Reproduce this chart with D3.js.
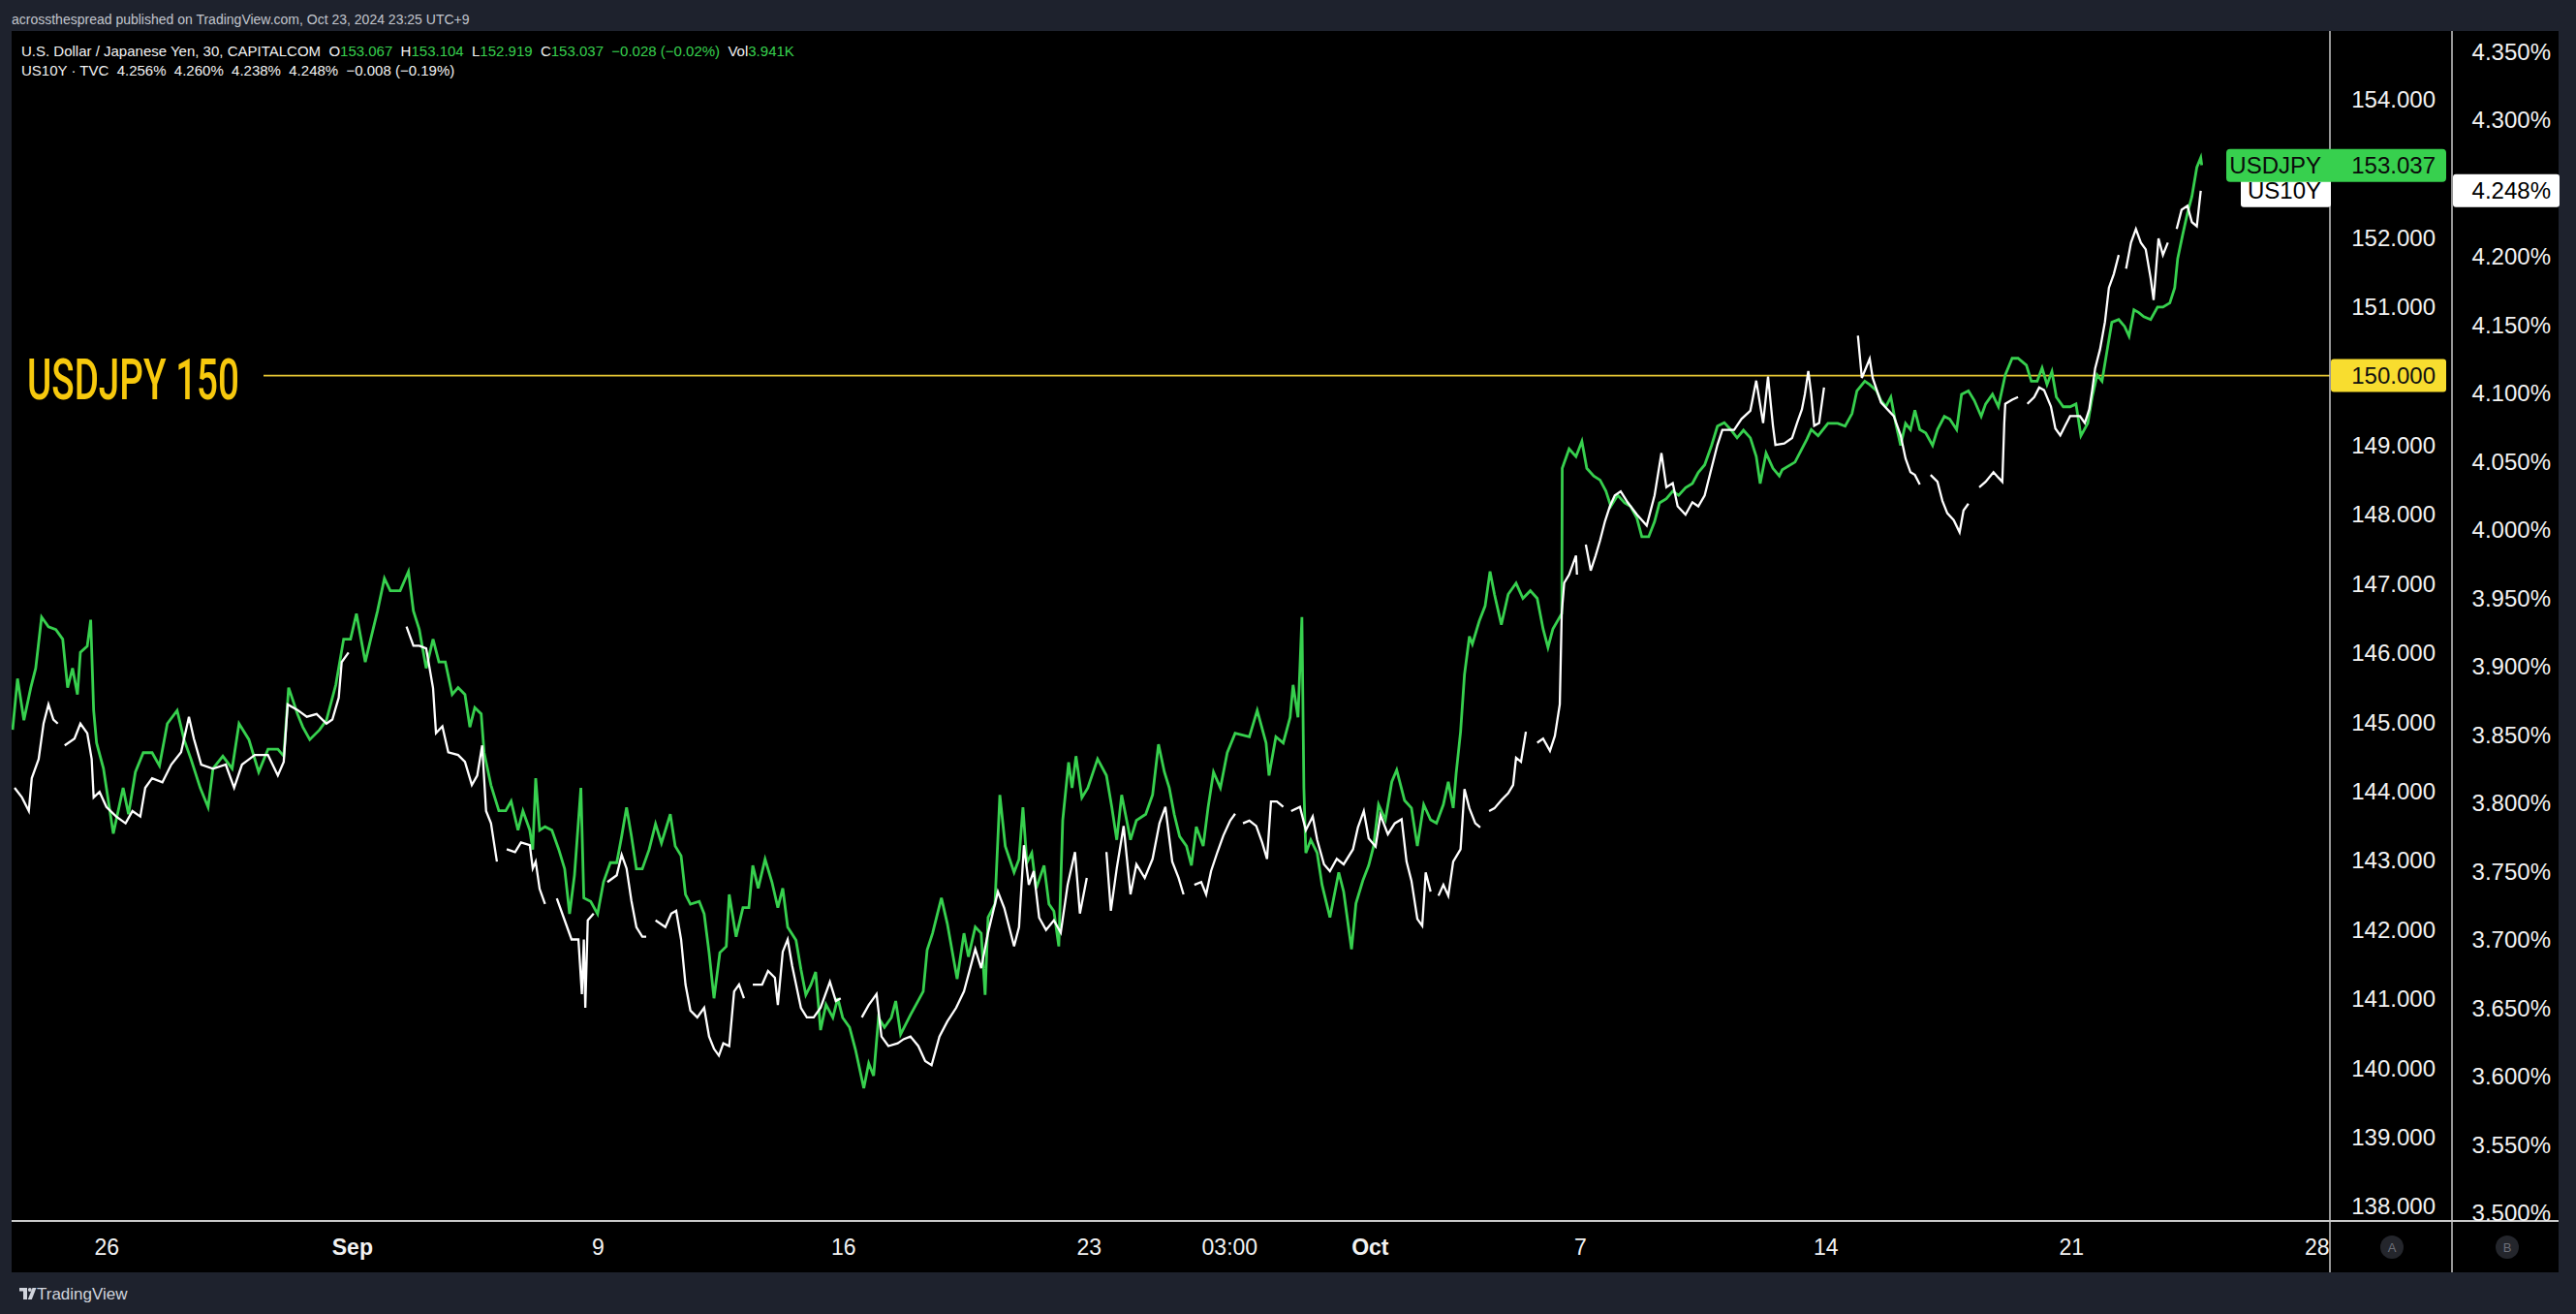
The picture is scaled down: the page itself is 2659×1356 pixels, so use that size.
<!DOCTYPE html>
<html><head><meta charset="utf-8">
<script src="https://cdn.jsdelivr.net/npm/d3@7"></script>
<style>html,body{margin:0;padding:0;background:#1e222d;overflow:hidden}</style>
</head><body><svg id="c" width="2659" height="1356"></svg>
<script>
// time unit: trading days since Mon Aug 26 (weekends collapsed, as on TradingView)
const usdjpy = [[-1.91,144.88],[-1.81,145.62],[-1.68,145.02],[-1.54,145.49],[-1.44,145.77],[-1.32,146.51],[-1.18,146.37],[-1.03,146.33],[-0.89,146.19],[-0.79,145.49],[-0.69,145.77],[-0.59,145.39],[-0.53,146.00],[-0.39,146.09],[-0.32,146.47],[-0.26,145.16],[-0.20,144.69],[-0.06,144.32],[0.14,143.38],[0.34,144.04],[0.45,143.66],[0.59,144.27],[0.75,144.55],[0.93,144.55],[1.08,144.36],[1.24,144.97],[1.44,145.16],[1.58,144.74],[1.72,144.46],[1.91,144.04],[2.07,143.76],[2.17,144.32],[2.37,144.50],[2.56,144.32],[2.70,144.97],[2.90,144.74],[3.10,144.27],[3.29,144.60],[3.49,144.60],[3.61,144.50],[3.71,145.49],[3.89,145.11],[4.00,144.92],[4.14,144.74],[4.34,144.88],[4.48,145.02],[4.67,145.53],[4.83,146.19],[4.97,146.19],[5.09,146.56],[5.27,145.86],[5.38,146.19],[5.52,146.60],[5.66,147.07],[5.78,146.89],[5.98,146.89],[6.15,147.17],[6.25,146.60],[6.37,146.33],[6.51,145.77],[6.65,146.19],[6.77,145.86],[6.90,145.86],
[7.04,145.39],[7.16,145.49],[7.30,145.39],[7.40,144.92],[7.50,145.20],[7.63,145.11],[7.69,144.55],[7.83,144.08],[7.99,143.71],[8.13,143.71],[8.24,143.85],[8.38,143.43],[8.48,143.71],[8.62,143.43],[8.68,143.15],[8.74,144.18],[8.82,143.43],[8.93,143.48],[9.07,143.43],[9.21,143.15],[9.33,142.87],[9.43,142.22],[9.53,142.78],[9.66,144.04],[9.72,142.45],[9.86,142.40],[10.00,142.22],[10.12,142.68],[10.26,142.96],[10.39,142.96],[10.49,143.34],[10.59,143.76],[10.69,143.34],[10.79,142.87],[10.91,142.87],[11.05,143.15],[11.18,143.52],[11.30,143.24],[11.48,143.66],[11.58,143.20],[11.70,143.06],[11.79,142.50],[11.89,142.36],[12.07,142.40],[12.17,142.22],[12.27,141.66],[12.37,141.00],[12.49,141.66],[12.62,141.75],[12.68,142.50],[12.82,141.89],[12.96,142.31],[13.08,142.31],[13.16,142.92],[13.27,142.59],[13.41,143.01],[13.55,142.68],[13.67,142.31],[13.77,142.59],[13.87,142.03],[14.04,141.84],[14.14,141.42],[14.24,141.05],[14.34,141.19],[14.44,141.38],[14.54,140.54],[14.65,140.91],[14.79,140.72],[14.89,141.00],[14.99,140.72],[15.13,140.58],[15.25,140.26],[15.42,139.70],[15.52,140.06],[15.62,139.88],[15.72,140.72],[15.84,140.58],[15.98,140.72],[16.07,140.96],[16.17,140.48],[16.37,140.76],
[16.63,141.10],[16.71,141.70],[16.82,141.94],[17.00,142.45],[17.12,142.08],[17.32,141.28],[17.46,141.94],[17.55,141.60],[17.69,142.03],[17.81,141.94],[17.89,141.05],[17.95,142.17],[18.09,142.36],[18.19,143.94],[18.30,143.20],[18.48,142.82],[18.58,143.01],[18.66,143.76],[18.74,142.96],[18.84,143.10],[18.93,142.59],[19.09,142.92],[19.19,142.36],[19.29,142.26],[19.39,141.75],[19.47,143.57],[19.59,144.41],[19.66,144.04],[19.74,144.50],[19.86,143.90],[19.98,144.04],[20.18,144.46],[20.36,144.22],[20.47,143.76],[20.57,143.29],[20.67,143.94],[20.85,143.29],[20.97,143.57],[21.16,143.66],[21.30,143.94],[21.42,144.67],[21.54,144.27],[21.64,144.04],[21.74,143.66],[21.85,143.34],[21.99,143.20],[22.09,142.92],[22.19,143.48],[22.33,143.20],[22.43,143.76],[22.54,144.27],[22.68,144.04],[22.82,144.55],[22.98,144.83],[23.27,144.78],[23.43,145.16],[23.61,144.69],[23.67,144.22],[23.81,144.78],[23.96,144.69],[24.10,145.06],[24.16,145.53],[24.26,145.06],[24.34,146.51],[24.38,144.04],[24.42,143.10],[24.52,143.29],[24.65,143.10],[24.75,142.64],[24.91,142.17],[25.09,142.82],[25.19,142.54],
[25.35,141.71],[25.44,142.37],[25.58,142.70],[25.70,142.92],[25.80,143.20],[25.90,143.80],[26.04,143.58],[26.17,144.13],[26.27,144.30],[26.43,143.86],[26.57,143.75],[26.69,143.20],[26.82,143.80],[26.96,143.58],[27.08,143.53],[27.22,143.80],[27.32,144.13],[27.42,143.75],[27.48,144.25],[27.57,144.85],[27.65,145.68],[27.75,146.23],[27.81,146.12],[27.95,146.45],[28.07,146.67],[28.17,147.17],[28.26,146.84],[28.40,146.40],[28.54,146.84],[28.70,147.00],[28.84,146.78],[28.99,146.89],[29.13,146.78],[29.25,146.34],[29.35,146.07],[29.45,146.34],[29.63,146.56],[29.64,148.66],[29.78,148.94],[29.92,148.83],[30.04,149.05],[30.14,148.66],[30.28,148.55],[30.41,148.49],[30.53,148.33],[30.63,148.11],[30.77,148.27],[30.91,148.16],[31.03,148.11],[31.16,147.94],[31.26,147.67],[31.40,147.67],[31.52,147.89],[31.62,148.16],[31.76,148.22],[31.89,148.33],[32.01,148.27],[32.15,148.38],[32.29,148.44],[32.41,148.60],[32.54,148.71],[32.68,148.99],[32.80,149.27],[32.94,149.32],[33.08,149.21],[33.20,149.10],[33.33,149.21],[33.47,149.10],[33.59,148.83],[33.67,148.44],[33.79,148.88],[33.93,148.66],[34.06,148.55],
[34.12,148.64],[34.38,148.75],[34.62,149.08],[34.71,149.22],[34.85,149.13],[35.05,149.31],[35.25,149.31],[35.40,149.27],[35.54,149.45],[35.64,149.78],[35.80,149.92],[35.90,149.87],[36.04,149.78],[36.13,149.64],[36.23,149.55],[36.33,149.69],[36.43,149.31],[36.53,148.99],[36.63,149.31],[36.73,149.22],[36.82,149.50],[36.92,149.22],[37.04,149.17],[37.18,148.99],[37.28,149.22],[37.42,149.41],[37.53,149.37],[37.67,149.22],[37.77,149.73],[37.91,149.78],[38.03,149.64],[38.17,149.41],[38.26,149.59],[38.40,149.73],[38.52,149.55],[38.66,150.01],[38.80,150.25],[38.92,150.25],[39.09,150.15],[39.19,149.92],[39.31,149.92],[39.41,150.11],[39.51,149.87],[39.61,150.06],[39.70,149.69],[39.84,149.55],[39.98,149.55],[40.10,149.59],[40.20,149.13],[40.34,149.31],[40.43,149.69],[40.53,150.01],[40.63,149.92],[40.73,150.35],[40.83,150.77],[40.97,150.81],[41.09,150.71],[41.18,150.57],[41.28,150.95],[41.38,150.91],[41.48,150.85],[41.62,150.81],[41.76,150.99],[41.87,150.99],[42.01,151.05],[42.11,151.27],[42.17,151.69],[42.27,152.03],[42.37,152.35],[42.46,152.59],[42.56,153.01],[42.64,153.15],[42.66,153.04]];

// null = no quotes (session gaps)
const us10y = [[-1.87,3.811],[-1.72,3.804],[-1.58,3.794],[-1.52,3.818],[-1.38,3.832],[-1.28,3.858],[-1.18,3.872],[-1.08,3.861],[-0.99,3.858],null,[-0.85,3.842],[-0.65,3.847],[-0.53,3.858],[-0.39,3.851],[-0.30,3.832],[-0.26,3.804],[-0.14,3.808],[0.00,3.797],[0.20,3.790],[0.39,3.785],[0.53,3.794],[0.69,3.790],[0.79,3.811],[0.93,3.818],[1.14,3.815],[1.32,3.828],[1.52,3.837],[1.68,3.863],[1.78,3.847],[1.93,3.828],[2.17,3.825],[2.43,3.828],[2.60,3.811],[2.76,3.828],[3.02,3.835],[3.29,3.835],[3.49,3.820],[3.61,3.830],[3.69,3.872],[3.89,3.868],[4.08,3.863],[4.28,3.865],[4.48,3.858],[4.60,3.861],[4.73,3.877],[4.79,3.903],[4.93,3.910],null,[6.11,3.929],[6.25,3.915],[6.37,3.915],[6.51,3.913],[6.65,3.884],[6.71,3.851],[6.84,3.856],[6.96,3.837],[7.16,3.835],
[7.30,3.830],[7.44,3.813],[7.55,3.820],[7.65,3.842],[7.73,3.794],[7.83,3.785],[7.95,3.757],null,[8.15,3.766],[8.32,3.764],[8.44,3.771],[8.62,3.769],[8.68,3.752],[8.74,3.757],[8.82,3.737],[8.93,3.726],null,[9.17,3.730],[9.33,3.714],[9.47,3.700],[9.61,3.700],[9.68,3.660],[9.72,3.700],[9.75,3.650],[9.80,3.714],[9.92,3.719],null,[10.20,3.742],[10.39,3.747],[10.49,3.762],[10.59,3.752],[10.69,3.728],[10.79,3.709],[10.91,3.702],[10.99,3.702],null,[11.18,3.714],[11.38,3.709],[11.50,3.719],[11.60,3.721],[11.70,3.700],[11.79,3.667],[11.89,3.648],[12.03,3.643],[12.17,3.650],[12.27,3.629],[12.37,3.620],[12.47,3.615],[12.56,3.624],[12.68,3.622],[12.78,3.662],[12.88,3.667],[12.98,3.657],null,[13.16,3.667],[13.35,3.667],[13.47,3.677],[13.61,3.672],[13.67,3.652],[13.77,3.691],[13.87,3.700],[13.96,3.681],[14.14,3.650],[14.26,3.643],[14.40,3.643],[14.54,3.650],[14.73,3.669],[14.85,3.655],[14.95,3.657],null,[15.38,3.643],[15.52,3.652],[15.68,3.660],[15.78,3.629],[15.92,3.622],[16.11,3.624],[16.23,3.627],[16.37,3.629],[16.53,3.622],[16.67,3.611],[16.80,3.608],[16.96,3.629],[17.12,3.640],[17.30,3.650],[17.46,3.662],
[17.69,3.693],[17.81,3.679],[17.95,3.705],[18.15,3.735],[18.28,3.723],[18.48,3.695],[18.58,3.709],[18.68,3.769],[18.78,3.740],[18.88,3.750],[18.99,3.716],[19.13,3.707],[19.29,3.714],[19.43,3.705],[19.57,3.740],[19.72,3.764],[19.82,3.719],[19.96,3.745],null,[20.36,3.764],[20.45,3.721],[20.57,3.752],[20.71,3.783],[20.85,3.733],[20.97,3.755],[21.14,3.745],[21.30,3.759],[21.44,3.785],[21.56,3.797],[21.70,3.757],[21.83,3.745],[21.93,3.733],null,[22.15,3.740],[22.29,3.742],[22.39,3.733],[22.49,3.750],[22.62,3.764],[22.74,3.776],[22.88,3.787],[22.98,3.792],null,[23.14,3.785],[23.27,3.787],[23.41,3.783],[23.53,3.771],[23.63,3.759],[23.71,3.801],[23.83,3.801],[23.96,3.797],null,[24.12,3.794],[24.30,3.797],[24.42,3.780],[24.56,3.790],[24.65,3.773],[24.79,3.755],[24.91,3.750],[25.05,3.759],[25.19,3.755],
[25.38,3.766],[25.48,3.782],[25.60,3.794],[25.70,3.774],[25.84,3.768],[25.94,3.791],[26.09,3.777],[26.23,3.785],[26.37,3.788],[26.47,3.757],[26.57,3.743],[26.69,3.715],[26.79,3.710],[26.86,3.749],[26.96,3.735],null,[27.12,3.732],[27.22,3.740],[27.32,3.732],[27.42,3.757],[27.57,3.766],[27.65,3.810],[27.75,3.796],[27.87,3.785],[27.97,3.782],null,[28.15,3.794],[28.26,3.796],[28.40,3.802],[28.54,3.807],[28.64,3.813],[28.70,3.833],[28.80,3.830],[28.90,3.852],null,[29.13,3.844],[29.25,3.847],[29.39,3.838],[29.49,3.849],[29.59,3.872],[29.63,3.939],[29.68,3.961],[29.78,3.967],[29.92,3.981],[29.94,3.967],null,[30.12,3.989],[30.22,3.970],[30.32,3.981],[30.41,3.992],[30.51,4.006],[30.61,4.017],[30.71,4.025],[30.83,4.028],[30.97,4.020],[31.16,4.011],[31.36,4.003],[31.52,4.025],[31.66,4.056],[31.76,4.031],[31.89,4.034],[31.99,4.017],[32.15,4.011],[32.29,4.020],[32.41,4.017],[32.54,4.025],[32.68,4.045],[32.80,4.062],[32.90,4.073],[33.14,4.073],[33.29,4.081],[33.47,4.087],[33.59,4.109],[33.73,4.078],[33.83,4.112],[33.93,4.076],[33.98,4.062],[34.16,4.063],[34.32,4.067],
[34.42,4.078],[34.52,4.088],[34.58,4.099],[34.65,4.116],[34.71,4.099],[34.77,4.076],[34.87,4.078],[34.97,4.104],null,[35.66,4.142],[35.74,4.111],[35.90,4.125],[35.96,4.111],[36.13,4.093],[36.39,4.083],[36.53,4.069],[36.63,4.052],[36.73,4.042],[36.82,4.040],[36.92,4.033],null,[37.14,4.040],[37.28,4.035],[37.38,4.021],[37.48,4.012],[37.61,4.007],[37.73,3.998],[37.81,4.014],[37.91,4.019],null,[38.13,4.031],[38.26,4.035],[38.42,4.042],[38.52,4.038],[38.60,4.035],[38.64,4.078],[38.66,4.092],[38.80,4.095],[38.92,4.097],null,[39.11,4.092],[39.25,4.097],[39.35,4.104],[39.45,4.102],[39.59,4.090],[39.68,4.074],[39.78,4.069],[39.88,4.076],[39.98,4.083],[40.18,4.083],[40.28,4.078],[40.37,4.088],[40.43,4.102],[40.49,4.118],[40.59,4.132],[40.69,4.152],[40.77,4.177],[40.87,4.187],[40.97,4.201],null,[41.12,4.191],[41.22,4.210],[41.32,4.220],[41.42,4.210],[41.52,4.205],[41.62,4.184],[41.68,4.168],[41.78,4.213],[41.87,4.201],[41.97,4.210],null,[42.15,4.220],[42.25,4.234],[42.37,4.237],[42.46,4.225],[42.56,4.222],[42.64,4.248]];

const priceTicks = [138,139,140,141,142,143,144,145,146,147,148,149,150,151,152,153,154];
const yieldTicks = [3.50,3.55,3.60,3.65,3.70,3.75,3.80,3.85,3.90,3.95,4.00,4.05,4.10,4.15,4.20,4.25,4.30,4.35];
const timeTickPos = [0,5,10,15,20,22.86,25.72,30,35,40,45];
const timeTickLabels = ["26","Sep","9","16","23","03:00","Oct","7","14","21","28"];
const boldTimeLabels = ["Sep","Oct"];
const lastUsdjpy = 153.037, lastUs10y = 4.248, levelValue = 150.000;
const visibleTime = [-1.93, 45.27];
const priceView = [138, 154];
const yieldView = [3.50, 4.35];

const GREEN = "#37d04e", YELLOW = "#f8dd2f", FONT = "'Liberation Sans', Arial, sans-serif";
const svg = d3.select("#c");
const L = 12, T = 32, R = 2641, B = 1313, AX1 = 2405, AX2 = 2531, TAX = 1260;

svg.append("rect").attr("width",2659).attr("height",1356).attr("fill","#1e222d");
svg.append("rect").attr("x",L).attr("y",T).attr("width",R-L).attr("height",B-T).attr("fill","#000");

const x = d3.scaleLinear().domain(visibleTime).range([L, AX1]);
const yP = d3.scaleLinear().domain(priceView).range([1244.4, 102]);
const yY = d3.scaleLinear().domain(yieldView).range([1251.5, 53]);

svg.append("clipPath").attr("id","plot").append("rect").attr("x",L).attr("y",T).attr("width",AX1-L).attr("height",TAX-T);
const plot = svg.append("g").attr("clip-path","url(#plot)");

// level line
plot.append("line").attr("x1",272).attr("x2",AX1).attr("y1",yP(levelValue)).attr("y2",yP(levelValue))
  .attr("stroke","#e5c534").attr("stroke-width",1.6);

const lineP = d3.line().defined(d=>d!==null).x(d=>x(d[0])).y(d=>yP(d[1]));
const lineY = d3.line().defined(d=>d!==null).x(d=>x(d[0])).y(d=>yY(d[1]));
plot.append("path").datum(usdjpy).attr("d",lineP).attr("fill","none").attr("stroke",GREEN).attr("stroke-width",2.8).attr("stroke-linejoin","miter");
plot.append("path").datum(us10y).attr("d",lineY).attr("fill","none").attr("stroke","#ffffff").attr("stroke-width",2.3).attr("stroke-linejoin","miter");

// axes lines
svg.append("line").attr("x1",AX1).attr("x2",AX1).attr("y1",T).attr("y2",B).attr("stroke","#c9c9c9").attr("stroke-width",1.5);
svg.append("line").attr("x1",AX2).attr("x2",AX2).attr("y1",T).attr("y2",B).attr("stroke","#c9c9c9").attr("stroke-width",1.5);
svg.append("line").attr("x1",L).attr("x2",R).attr("y1",TAX).attr("y2",TAX).attr("stroke","#c9c9c9").attr("stroke-width",2);

// price axis (left scale column)
const gP = svg.append("g").attr("transform",`translate(2514,0)`);
gP.call(d3.axisRight(yP).tickValues(priceTicks).tickSize(0).tickFormat(d3.format(".3f")));
gP.select(".domain").remove();
gP.selectAll("text").attr("x",0).attr("text-anchor","end").attr("dy","0.35em")
  .attr("fill","#f2f2f2").style("font-family",FONT).style("font-size","24px");
// yield axis
const gY = svg.append("g").attr("transform",`translate(2633,0)`);
gY.call(d3.axisRight(yY).tickValues(yieldTicks).tickSize(0).tickFormat(d=>d3.format(".3f")(d)+"%"));
gY.select(".domain").remove();
gY.selectAll("text").attr("x",0).attr("text-anchor","end").attr("dy","0.35em")
  .attr("fill","#f2f2f2").style("font-family",FONT).style("font-size","24px");

// time axis
const gT = svg.append("g").attr("transform",`translate(0,1287)`);
gT.call(d3.axisBottom(x).tickValues(timeTickPos).tickSize(0).tickFormat((d,i)=>timeTickLabels[i]));
gT.select(".domain").remove();
gT.selectAll("text").attr("y",0).attr("dy","0.35em").attr("fill","#f2f2f2")
  .style("font-family",FONT).style("font-size","23px")
  .style("font-weight",(d,i)=>boldTimeLabels.includes(timeTickLabels[i])?"bold":"normal");

// last-value labels
svg.append("rect").attr("x",2313).attr("y",yY(lastUs10y)-17).attr("width",93).attr("height",34).attr("rx",3).attr("fill","#fff");
svg.append("text").attr("x",2396).attr("y",yY(lastUs10y)).attr("dy","0.35em").attr("text-anchor","end").attr("fill","#000").style("font-family",FONT).style("font-size","24px").text("US10Y");
svg.append("rect").attr("x",AX2+1).attr("y",yY(lastUs10y)-17).attr("width",110).attr("height",34).attr("rx",3).attr("fill","#fff");
svg.append("text").attr("x",2633).attr("y",yY(lastUs10y)).attr("dy","0.35em").attr("text-anchor","end").attr("fill","#000").style("font-family",FONT).style("font-size","24px").text(d3.format(".3f")(lastUs10y)+"%");

svg.append("rect").attr("x",2298).attr("y",yP(lastUsdjpy)-17).attr("width",227).attr("height",34).attr("rx",4).attr("fill",GREEN);
svg.append("text").attr("x",2396).attr("y",yP(lastUsdjpy)).attr("dy","0.35em").attr("text-anchor","end").attr("fill","#0b0b0b").style("font-family",FONT).style("font-size","24px").text("USDJPY");
svg.append("text").attr("x",2514).attr("y",yP(lastUsdjpy)).attr("dy","0.35em").attr("text-anchor","end").attr("fill","#0b0b0b").style("font-family",FONT).style("font-size","24px").text(d3.format(".3f")(lastUsdjpy));

svg.append("rect").attr("x",AX1+1).attr("y",yP(levelValue)-17).attr("width",119).attr("height",34).attr("rx",3).attr("fill",YELLOW);
svg.append("text").attr("x",2514).attr("y",yP(levelValue)).attr("dy","0.35em").attr("text-anchor","end").attr("fill","#111").style("font-family",FONT).style("font-size","24px").text(d3.format(".3f")(levelValue));

// level annotation
svg.append("text").attr("x",28).attr("y",412).attr("fill","#f7c90d")
  .attr("textLength",219).attr("lengthAdjust","spacingAndGlyphs")
  .style("font-family","Roboto, sans-serif").style("font-weight","500").style("font-size","60px").text("USDJPY 150");

// scale buttons
[[2469,"A"],[2588,"B"]].forEach(([cx,t])=>{
  svg.append("circle").attr("cx",cx).attr("cy",1287).attr("r",12).attr("fill","#24262c");
  svg.append("text").attr("x",cx).attr("y",1287).attr("dy","0.35em").attr("text-anchor","middle").attr("fill","#6c6f78").style("font-family",FONT).style("font-size","13px").text(t);
});

// header
svg.append("text").attr("x",12).attr("y",20).attr("dy","0.35em").attr("fill","#c3c6ce").style("font-family",FONT).style("font-size","14px")
  .text("acrossthespread published on TradingView.com, Oct 23, 2024 23:25 UTC+9");

// legend
const leg1 = svg.append("text").attr("x",22).attr("y",53).attr("dy","0.35em").style("font-family",FONT).style("font-size","15px").attr("fill","#f2f2f2").attr("xml:space","preserve");
[["U.S. Dollar / Japanese Yen, 30, CAPITALCOM  ","#f2f2f2"],["O","#f2f2f2"],["153.067  ",GREEN],["H","#f2f2f2"],["153.104  ",GREEN],["L","#f2f2f2"],["152.919  ",GREEN],["C","#f2f2f2"],["153.037  ",GREEN],["−0.028 (−0.02%)  ",GREEN],["Vol","#f2f2f2"],["3.941K",GREEN]]
  .forEach(([t,c])=>leg1.append("tspan").attr("fill",c).text(t));
svg.append("text").attr("x",22).attr("y",73).attr("dy","0.35em").attr("xml:space","preserve").style("font-family",FONT).style("font-size","15px").attr("fill","#f2f2f2")
  .text("US10Y · TVC  4.256%  4.260%  4.238%  4.248%  −0.008 (−0.19%)");

// footer logo
const lg = svg.append("g").attr("transform","translate(20,1329)");
lg.append("path").attr("d","M0 0 H8 V12 H4 V3.5 H0 Z").attr("fill","#d1d4dc");
lg.append("circle").attr("cx",10.8).attr("cy",2).attr("r",1.9).attr("fill","#d1d4dc");
lg.append("path").attr("d","M13.5 0 H17.5 L12.8 12 H8.8 Z").attr("fill","#d1d4dc");
svg.append("text").attr("x",38).attr("y",1335).attr("dy","0.35em").attr("fill","#d1d4dc").style("font-family",FONT).style("font-size","17px").text("TradingView");
</script></body></html>
